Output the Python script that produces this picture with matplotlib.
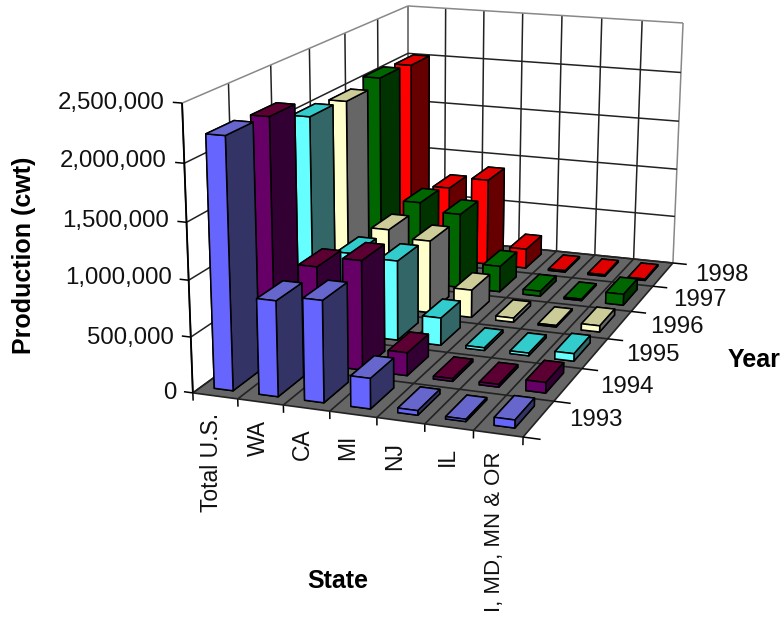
import numpy as np
import matplotlib
matplotlib.use("Agg")
import matplotlib.pyplot as plt
from mpl_toolkits.mplot3d.art3d import Poly3DCollection

plt.rcParams['font.family'] = ['Liberation Sans', 'DejaVu Sans']

states = ["Total U.S.", "WA", "CA", "MI", "NJ", "IL", "I, MD, MN & OR"]
years = ["1993", "1994", "1995", "1996", "1997", "1998"]
prod_1993 = [2220000, 850000, 900000, 270000, 40000, 20000, 70000]
prod_1994 = [2200000, 900000, 1000000, 210000, 25000, 25000, 95000]
prod_1995 = [2020000, 780000, 755000, 260000, 25000, 25000, 70000]
prod_1996 = [1990000, 780000, 710000, 270000, 40000, 15000, 60000]
prod_1997 = [2050000, 830000, 750000, 260000, 50000, 15000, 110000]
prod_1998 = [2020000, 770000, 890000, 200000, 15000, 15000, 15000]
series = [prod_1993, prod_1994, prod_1995, prod_1996, prod_1997, prod_1998]
z_ticks = [0, 500000, 1000000, 1500000, 2000000, 2500000]
z_labels = ["0", "500,000", "1,000,000", "1,500,000", "2,000,000", "2,500,000"]

front_cols = ["#6666FF", "#660066", "#66FFFF", "#FFFFCC", "#006600", "#FF0000"]
top_cols = ["#6666CC", "#5C0033", "#33CCCC", "#CCCC99", "#006600", "#E00000"]
side_cols = ["#333366", "#330033", "#336666", "#666666", "#003300", "#660000"]

W, H = 782, 617
nx, ny = len(states), len(years)
zmax = z_ticks[-1]

# camera calibration: world box corners -> pixels in the picture
world = np.array([(0, 0, 0), (nx, 0, 0), (nx, ny, 0), (0, ny, 0),
                  (0, 0, zmax), (0, ny, zmax), (nx, ny, zmax)], float)
world[:, 2] /= zmax
pix = np.array([(193, 393), (523, 437), (673, 263), (408, 236),
                (182, 103), (408, 6), (683, 23)], float)
A, b = [], []
for (X, Y, Z), (u, v) in zip(world, pix):
    A.append([X, Y, Z, 1, 0, 0, 0, 0, -u*X, -u*Y, -u*Z]); b.append(u)
    A.append([0, 0, 0, 0, X, Y, Z, 1, -v*X, -v*Y, -v*Z]); b.append(v)
p = np.linalg.lstsq(np.array(A), np.array(b), rcond=None)[0]
P = np.array([list(p[:4]), list(p[4:8]), list(p[8:11]) + [1.0]])
P[:, 2] /= zmax
depth = P[2] - np.array([0, 0, 0, 0.5])
M = np.vstack([P[0], P[1], depth, P[2]])

fig = plt.figure(figsize=(W/100, H/100), dpi=100, facecolor='white')
ax = fig.add_axes([0, 0, 1, 1], projection='3d')
ax.set_proj_type('ortho')
ax.computed_zorder = False
ax.get_proj = lambda: M
ax.apply_aspect = lambda position=None: None
ax.viewLim.intervalx = (0, W)
ax.viewLim.intervaly = (H, 0)
ax.set_axis_off()

# floor
floor = Poly3DCollection([[(0, 0, 0), (nx, 0, 0), (nx, ny, 0), (0, ny, 0)]],
                         facecolors="#666666", edgecolors="none", zorder=1)
ax.add_collection3d(floor)

def ln(xs, ys, zs, color='black', lw=1.1, zo=2):
    ax.plot(xs, ys, zs, color=color, lw=lw, zorder=zo, solid_capstyle='butt')

grid = "#222222"
for i in range(nx + 1):
    ln([i, i], [0, ny], [0, 0], grid, 1.2)
    ln([i, i], [ny, ny], [0, zmax], grid if i < nx else "#888888")
    ln([i, i], [0, 0], [0, -70000], 'black')
for j in range(ny + 1):
    ln([0, nx], [j, j], [0, 0], grid, 1.2)
    ln([0, 0], [j, j], [0, zmax], grid if j < ny else "#888888")
    ln([nx, nx + 0.35], [j, j], [0, 0], 'black')
for k, z in enumerate(z_ticks):
    c = "#888888" if z == zmax else grid
    ln([0, 0], [0, ny], [z, z], c)
    ln([0, nx], [ny, ny], [z, z], c)
    ln([-0.2, 0], [0, 0], [z, z], 'black')
ln([0, 0], [0, 0], [0, zmax], 'black', 1.3)

# bars: far rows first, left to right
bw, bd = 0.42, 0.62
zo = 3
for j in range(ny - 1, -1, -1):
    faces = [side_cols[j], top_cols[j], front_cols[j], side_cols[j], front_cols[j], side_cols[j]]
    for i in range(nx):
        zo += 1
        ax.bar3d(i + 0.29, j + (1 - bd)/2, 0, bw, bd, series[j][i], color=faces,
                 shade=False, edgecolor='black', linewidth=1.1, zorder=zo)

def txt(x, y, s, **kw):
    fig.text(x / W, 1 - y / H, s, **kw)

for lab, x, y in zip(z_labels, [176, 174, 172, 169, 167, 165], [393, 338, 278, 221, 161, 103]):
    txt(x, y, lab, ha='right', va='center', fontsize=17.3, color='#111111')
for lab, x, y in zip(years, [596, 627, 653, 677, 700, 722], [420, 387, 355, 327, 300, 275]):
    txt(x, y, lab, ha='center', va='center', fontsize=17.3, color='#111111')
for lab, x, y, fsz in zip(states, [212, 258, 302, 348, 395, 447, 495],
                          [413, 420, 428, 435, 442, 447, 452],
                          [16.5, 16.5, 16.5, 16.5, 16.5, 16.5, 16]):
    fig.text(x / W, 1 - y / H, lab, rotation=90, ha='center', va='top',
             fontsize=fsz, color='#111111')
txt(24, 255, "Production (cwt)", rotation=90, ha='center', va='center', fontsize=18, fontweight='bold')
txt(338, 581, "State", ha='center', va='center', fontsize=18, fontweight='bold')
txt(754, 360, "Year", ha='center', va='center', fontsize=18, fontweight='bold')

fig.savefig("out.png", dpi=100)
